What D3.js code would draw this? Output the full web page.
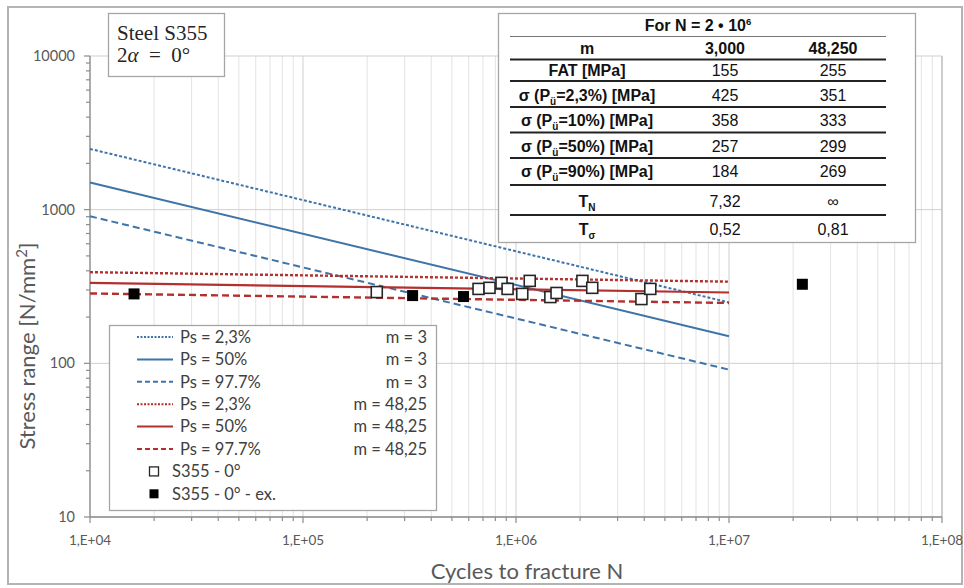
<!DOCTYPE html>
<html><head><meta charset="utf-8">
<script src="https://cdn.jsdelivr.net/npm/d3@7"></script>
<style>
html,body{margin:0;padding:0;background:#fff;}
svg{display:block;}
</style></head>
<body>
<svg id="chart" width="964" height="588"></svg>
<script>
// ---------- DATA ----------
const lineN = [1e4, 1e7];
const blueP023 = [2485, 249];
const blueP50 = [1503, 150];
const blueP977 = [906, 91];
const redP023 = [392, 340];
const redP50 = [334, 289];
const redP977 = [285, 247];

const openN = [2.22e5, 6.67e5, 7.51e5, 8.55e5, 9.13e5, 1.07e6, 1.16e6, 1.45e6, 1.55e6, 2.05e6, 2.28e6, 3.88e6, 4.27e6];
const openS = [291, 305, 310, 334, 305, 283, 344, 270, 287, 344, 310, 262, 305];
const exN = [1.61e4, 3.27e5, 5.67e5, 2.21e7];
const exS = [283, 276, 272, 327];

const yTicks = [10, 100, 1000, 10000];
const yTickLabels = ["10", "100", "1000", "10000"];
const xTicks = [1e4, 1e5, 1e6, 1e7, 1e8];
const xTickLabels = ["1,E+04", "1,E+05", "1,E+06", "1,E+07", "1,E+08"];

const legendLabels = ["Ps = 2,3%", "Ps = 50%", "Ps = 97.7%", "Ps = 2,3%", "Ps = 50%", "Ps = 97.7%", "S355 - 0°", "S355 - 0° - ex."];
const legendM = ["m = 3", "m = 3", "m = 3", "m = 48,25", "m = 48,25", "m = 48,25", "", ""];

const tableHeader = ["m", "3,000", "48,250"];
const tableRowLabels = [
  [["FAT [MPa]", false]],
  [["σ (P", false], ["ü", true], ["=2,3%) [MPa]", false]],
  [["σ (P", false], ["ü", true], ["=10%) [MPa]", false]],
  [["σ (P", false], ["ü", true], ["=50%) [MPa]", false]],
  [["σ (P", false], ["ü", true], ["=90%) [MPa]", false]],
  [["T", false], ["N", true]],
  [["T", false], ["σ", true]]
];
const tableM3 = ["155", "425", "358", "257", "184", "7,32", "0,52"];
const tableM48 = ["255", "351", "333", "299", "269", "∞", "0,81"];

// ---------- CHART ----------
const svg = d3.select("#chart");
const X0 = 90, X1 = 942, Y0 = 517, Y1 = 56;
const x = d3.scaleLog().domain([1e4, 1e8]).range([X0, X1]);
const y = d3.scaleLog().domain([10, 10000]).range([Y0, Y1]);
const BLUE = "#3f74a9", RED = "#b3302e";
const gridC = "#e3e3e3", gridMajC = "#cfcfcf", axisC = "#8c8c8c", labC = "#595959";
const sansC = "Lato, 'Open Sans', sans-serif";

// outer frame
svg.append("rect").attr("x", 8).attr("y", 7).attr("width", 954).attr("height", 577)
  .attr("fill", "#fff").attr("stroke", "#b4b4b4").attr("stroke-width", 2);

// minor/major values
const xMinor = [];
for (let d = 1e4; d < 1e8; d *= 10) for (let k = 1; k <= 9; k++) xMinor.push(k * d);
xMinor.push(1e8);
const yMinor = [];
for (let d = 10; d < 10000; d *= 10) for (let k = 1; k <= 9; k++) yMinor.push(k * d);
yMinor.push(10000);

const g = svg.append("g");
// vertical grid
g.selectAll(".vg").data(xMinor).join("line")
  .attr("x1", d => x(d)).attr("x2", d => x(d)).attr("y1", Y1).attr("y2", Y0)
  .attr("stroke", d => xTicks.includes(d) ? gridMajC : gridC).attr("stroke-width", 1);
// horizontal grid (major)
g.selectAll(".hg").data(yTicks).join("line")
  .attr("x1", X0).attr("x2", X1).attr("y1", d => y(d)).attr("y2", d => y(d))
  .attr("stroke", gridMajC).attr("stroke-width", 1);
// plot border right
g.append("line").attr("x1", X1).attr("x2", X1).attr("y1", Y1).attr("y2", Y0).attr("stroke", "#c4c4c4").attr("stroke-width", 1.5);

// axes
const ax = svg.append("g");
ax.append("line").attr("x1", X0).attr("x2", X0).attr("y1", Y1).attr("y2", Y0).attr("stroke", axisC).attr("stroke-width", 1.3);
ax.append("line").attr("x1", X0).attr("x2", X1).attr("y1", Y0).attr("y2", Y0).attr("stroke", axisC).attr("stroke-width", 1.3);
ax.selectAll(".yt").data(yMinor).join("line")
  .attr("x1", d => X0 - (yTicks.includes(d) ? 6 : 4)).attr("x2", X0)
  .attr("y1", d => y(d)).attr("y2", d => y(d)).attr("stroke", axisC).attr("stroke-width", 1.2);
ax.selectAll(".xt").data(xMinor).join("line")
  .attr("x1", d => x(d)).attr("x2", d => x(d))
  .attr("y1", Y0).attr("y2", d => Y0 + (xTicks.includes(d) ? 6 : 4)).attr("stroke", axisC).attr("stroke-width", 1.2);
ax.selectAll(".yl").data(yTicks).join("text")
  .attr("x", 75).attr("y", d => y(d)).attr("dy", "0.35em").attr("text-anchor", "end")
  .attr("font-family", sansC).attr("font-size", 14.5).attr("fill", labC)
  .text((d, i) => yTickLabels[i]);
ax.selectAll(".xl").data(xTicks).join("text")
  .attr("x", d => x(d)).attr("y", 545).attr("text-anchor", "middle")
  .attr("font-family", sansC).attr("font-size", 13.5).attr("fill", labC)
  .text((d, i) => xTickLabels[i]);

// axis titles
svg.append("text").attr("x", 527).attr("y", 579).attr("text-anchor", "middle")
  .attr("font-family", sansC).attr("font-size", 22).attr("fill", labC).text("Cycles to fracture N");
const yt = svg.append("text").attr("transform", "translate(35,346) rotate(-90)").attr("text-anchor", "middle")
  .attr("font-family", sansC).attr("font-size", 22).attr("fill", labC);
yt.append("tspan").text("Stress range [N/mm");
yt.append("tspan").attr("dy", -8).attr("font-size", 15).text("2");
yt.append("tspan").attr("dy", 8).text("]");

// S-N lines
const lineGen = d3.line().x(d => x(d[0])).y(d => y(d[1]));
const curves = [
  {v: blueP023, c: BLUE, dash: "3,2", w: 2},
  {v: blueP50, c: BLUE, dash: null, w: 2},
  {v: blueP977, c: BLUE, dash: "7,4", w: 2},
  {v: redP023, c: RED, dash: "3,2", w: 2.4},
  {v: redP50, c: RED, dash: null, w: 2.2},
  {v: redP977, c: RED, dash: "7,4", w: 2.4}
];
const cg = svg.append("g");
curves.forEach(cv => {
  cg.append("path").datum(lineN.map((n, i) => [n, cv.v[i]]))
    .attr("d", lineGen).attr("fill", "none").attr("stroke", cv.c).attr("stroke-width", cv.w)
    .attr("stroke-dasharray", cv.dash);
});

// markers
const ms = 11;
svg.append("g").selectAll("rect").data(openN.map((n, i) => [n, openS[i]])).join("rect")
  .attr("x", d => x(d[0]) - ms / 2).attr("y", d => y(d[1]) - ms / 2).attr("width", ms).attr("height", ms)
  .attr("fill", "#fff").attr("stroke", "#262626").attr("stroke-width", 1.6);
svg.append("g").selectAll("rect").data(exN.map((n, i) => [n, exS[i]])).join("rect")
  .attr("x", d => x(d[0]) - ms / 2).attr("y", d => y(d[1]) - ms / 2).attr("width", ms).attr("height", ms)
  .attr("fill", "#000");

// legend
const lg = svg.append("g");
lg.append("rect").attr("x", 109.5).attr("y", 325.5).attr("width", 327).attr("height", 185)
  .attr("fill", "#fff").attr("stroke", "#a6a6a6").attr("stroke-width", 1.3);
const legRowY = i => 337 + i * 22.4;
legendLabels.forEach((lab, i) => {
  const yy = legRowY(i);
  if (i < 6) {
    const cv = curves[i];
    lg.append("line").attr("x1", 137).attr("x2", 173).attr("y1", yy).attr("y2", yy)
      .attr("stroke", cv.c).attr("stroke-width", 2).attr("stroke-dasharray", cv.dash ? (cv.dash === "3,2" ? "2,1.5" : "5,3") : null);
    lg.append("text").attr("x", 180).attr("y", yy).attr("dy", "0.35em")
      .attr("font-family", sansC).attr("font-size", 16.5).attr("fill", "#404040").text(lab);
    lg.append("text").attr("x", 427).attr("y", yy).attr("dy", "0.35em").attr("text-anchor", "end")
      .attr("font-family", sansC).attr("font-size", 16.5).attr("fill", "#404040").text(legendM[i]);
  } else {
    const s = 9;
    lg.append("rect").attr("x", 154 - s / 2).attr("y", yy - s / 2).attr("width", s).attr("height", s)
      .attr("fill", i === 6 ? "#fff" : "#000").attr("stroke", i === 6 ? "#262626" : "none").attr("stroke-width", 1.3);
    lg.append("text").attr("x", 172).attr("y", yy).attr("dy", "0.35em")
      .attr("font-family", sansC).attr("font-size", 16.5).attr("fill", "#404040").text(lab);
  }
});

// Steel box
const sb = svg.append("g");
sb.append("rect").attr("x", 108.5).attr("y", 13.5).attr("width", 116).attr("height", 63)
  .attr("fill", "#fff").attr("stroke", "#a6a6a6").attr("stroke-width", 1.3);
sb.append("text").attr("x", 117).attr("y", 40).attr("font-family", "'Liberation Serif', 'DejaVu Serif', serif")
  .attr("font-size", 21).attr("fill", "#262626").text("Steel S355");
const t2 = sb.append("text").attr("x", 117).attr("y", 62).attr("font-family", "'Liberation Serif', 'DejaVu Serif', serif")
  .attr("font-size", 21).attr("fill", "#262626").attr("xml:space", "preserve");
t2.append("tspan").text("2");
t2.append("tspan").attr("font-style", "italic").text("α");
t2.append("tspan").text("\u2002=\u20020°");

// Table
const tb = svg.append("g");
const TF = "'Liberation Sans', Arial, sans-serif";
tb.append("rect").attr("x", 498.5).attr("y", 13.5).attr("width", 417).attr("height", 229)
  .attr("fill", "#fff").attr("stroke", "#a6a6a6").attr("stroke-width", 1.3);
const colX = [587, 725, 833];
const tl = tb.append("text").attr("x", 698).attr("y", 25).attr("dy", "0.35em").attr("text-anchor", "middle")
  .attr("font-family", TF).attr("font-size", 16).attr("font-weight", "bold").attr("fill", "#111");
tl.append("tspan").text("For N = 2 • 10");
tl.append("tspan").attr("dy", -6).attr("font-size", 9.5).text("6");
const sepY = [59.5, 81, 107, 132.5, 158, 185, 215];
tb.append("line").attr("x1", 510).attr("x2", 886).attr("y1", 36.5).attr("y2", 36.5).attr("stroke", "#777").attr("stroke-width", 1.2);
sepY.forEach(sy => tb.append("line").attr("x1", 510).attr("x2", 886).attr("y1", sy).attr("y2", sy)
  .attr("stroke", "#222").attr("stroke-width", 2));
tableHeader.forEach((h, i) => tb.append("text").attr("x", colX[i]).attr("y", 48).attr("dy", "0.35em")
  .attr("text-anchor", "middle").attr("font-family", TF).attr("font-size", 16).attr("font-weight", "bold").attr("fill", "#111").text(h));
const rowY = [70.5, 95.5, 120.5, 146, 171, 201, 229];
tableRowLabels.forEach((parts, r) => {
  const t = tb.append("text").attr("x", colX[0]).attr("y", rowY[r]).attr("dy", "0.35em")
    .attr("text-anchor", "middle").attr("font-family", TF).attr("font-size", 16).attr("font-weight", "bold").attr("fill", "#111");
  parts.forEach((p, k) => {
    const sp = t.append("tspan").text(p[0]);
    if (p[1]) sp.attr("font-size", 10).attr("dy", 4);
    else if (k > 0 && parts[k - 1][1]) sp.attr("dy", -4);
  });
  tb.append("text").attr("x", colX[1]).attr("y", rowY[r]).attr("dy", "0.35em").attr("text-anchor", "middle")
    .attr("font-family", TF).attr("font-size", 16).attr("fill", "#111").text(tableM3[r]);
  tb.append("text").attr("x", colX[2]).attr("y", rowY[r]).attr("dy", "0.35em").attr("text-anchor", "middle")
    .attr("font-family", TF).attr("font-size", 16).attr("fill", "#111").text(tableM48[r]);
});
</script>
</body></html>
